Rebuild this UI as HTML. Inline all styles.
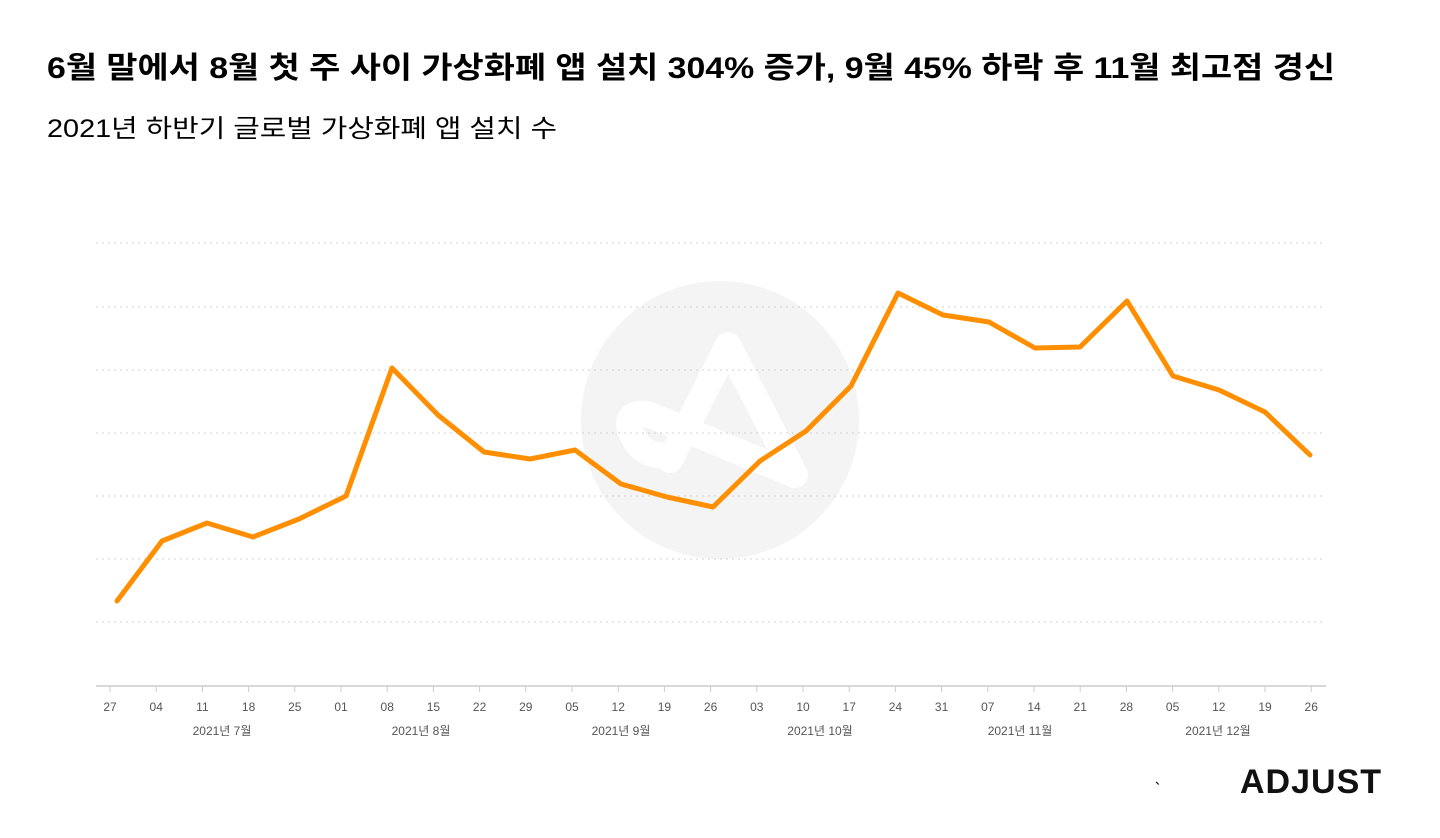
<!DOCTYPE html>
<html><head><meta charset="utf-8"><style>
body{margin:0;width:1440px;height:838px;background:#fff;font-family:"Liberation Sans","Noto Sans CJK KR",sans-serif;overflow:hidden}
</style></head><body>
<svg width="1440" height="838" xmlns="http://www.w3.org/2000/svg" style="position:absolute;left:0;top:0">
<text x="47" y="78" font-size="30" font-weight="bold" fill="#000" textLength="1288" lengthAdjust="spacingAndGlyphs" font-family="Liberation Sans, Noto Sans CJK KR, sans-serif">6월 말에서 8월 첫 주 사이 가상화폐 앱 설치 304% 증가, 9월 45% 하락 후 11월 최고점 경신</text>
<text x="47" y="137" font-size="25" fill="#000" textLength="510" lengthAdjust="spacingAndGlyphs" font-family="Liberation Sans, Noto Sans CJK KR, sans-serif">2021년 하반기 글로벌 가상화폐 앱 설치 수</text>
<circle cx="720" cy="420" r="139" fill="#f4f4f4"/>
<g stroke="#fff" stroke-width="26" fill="none" stroke-linecap="round" stroke-linejoin="round">
<path d="M670 460 L728 345 L795 475 L650 415 Q625 410 630 430 Q640 455 660 455"/>
</g>
<g stroke="#d0d0d0" stroke-width="1" stroke-dasharray="2,4">
<line x1="96" x2="1326" y1="243" y2="243"/><line x1="96" x2="1326" y1="307" y2="307"/>
<line x1="96" x2="1326" y1="370" y2="370"/><line x1="96" x2="1326" y1="433" y2="433"/>
<line x1="96" x2="1326" y1="496" y2="496"/><line x1="96" x2="1326" y1="559" y2="559"/>
<line x1="96" x2="1326" y1="622" y2="622"/>
</g>
<line x1="96" x2="1326" y1="686" y2="686" stroke="#ccc" stroke-width="1.5"/>
<g stroke="#ccc" stroke-width="1" id="ticks"></g>
<g font-size="12" fill="#555" text-anchor="middle" id="labels"></g>
<g font-size="12" fill="#555" text-anchor="middle">
<text x="222" y="735">2021년 7월</text><text x="421" y="735">2021년 8월</text>
<text x="621" y="735">2021년 9월</text><text x="820" y="735">2021년 10월</text>
<text x="1020" y="735">2021년 11월</text><text x="1218" y="735">2021년 12월</text>
</g>
<polyline fill="none" stroke="#ff8f00" stroke-width="5" stroke-linejoin="round" stroke-linecap="round" points="117,601 162,541 207,523 253,537 299,519 346,496 392,368 438,415 484,452 530,459 575,450 621,484 667,497 713,507 760,461 806,431 851,386 898,293 943,315 989,322 1035,348 1080,347 1127,301 1173,376 1219,390 1265,412 1310,455"/>
<text x="1155" y="784" font-size="12" fill="#000">、</text>
<text x="1240" y="793" font-size="34" font-weight="bold" fill="#111" letter-spacing="1">ADJUST</text>
</svg>
<script>
var L=["27","04","11","18","25","01","08","15","22","29","05","12","19","26","03","10","17","24","31","07","14","21","28","05","12","19","26"];
var t=document.getElementById("ticks"),l=document.getElementById("labels"),ns="http://www.w3.org/2000/svg";
L.forEach(function(s,i){var x=110+i*46.2;
var a=document.createElementNS(ns,"line");a.setAttribute("x1",x);a.setAttribute("x2",x);a.setAttribute("y1",686);a.setAttribute("y2",692);t.appendChild(a);
var b=document.createElementNS(ns,"text");b.setAttribute("x",x);b.setAttribute("y",711);b.textContent=s;l.appendChild(b);});
</script>
</body></html>
